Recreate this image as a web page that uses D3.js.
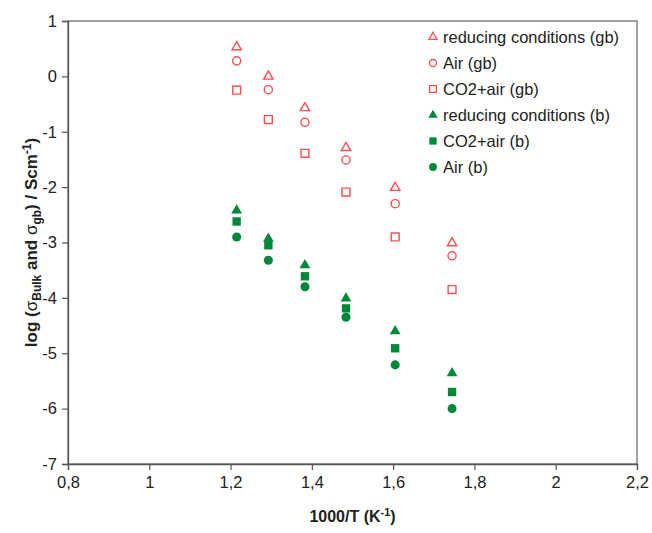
<!DOCTYPE html>
<html>
<head>
<meta charset="utf-8">
<script src="https://cdn.jsdelivr.net/npm/d3@7"></script>
<style>
  body { margin: 0; background: #fff; }
  svg { font-family: "Liberation Sans", Arial, sans-serif; }
</style>
</head>
<body>
<svg id="chart" width="652" height="533"></svg>
<script>
const width = 652;
const height = 533;
const margin = { top: 21, right: 15, bottom: 69, left: 68 };

// 1000/T
const invT = [1.215, 1.293, 1.383, 1.484, 1.605, 1.745];

// grain boundary (open red)
const reducingGb = [0.53, 0.0, -0.57, -1.29, -2.01, -3.01];
const airGb = [0.28, -0.24, -0.83, -1.51, -2.30, -3.24];
const co2Gb = [-0.25, -0.78, -1.39, -2.09, -2.90, -3.85];

// bulk (filled green)
const reducingB = [-2.42, -2.93, -3.41, -4.01, -4.60, -5.36];
const co2B = [-2.62, -3.05, -3.61, -4.19, -4.91, -5.70];
const airB = [-2.90, -3.32, -3.80, -4.35, -5.21, -6.00];

const xTicks = [0.8, 1, 1.2, 1.4, 1.6, 1.8, 2, 2.2];
const yTicks = [1, 0, -1, -2, -3, -4, -5, -6, -7];

const red = "#ff4d4d";
const green = "#00873a";

const series = [
  { name: "reducing conditions (gb)", values: reducingGb, shape: d3.symbolTriangle, size: 38, fill: false, color: red },
  { name: "Air (gb)", values: airGb, shape: d3.symbolCircle, size: 52, fill: false, color: red },
  { name: "CO2+air (gb)", values: co2Gb, shape: d3.symbolSquare, size: 62, fill: false, color: red },
  { name: "reducing conditions (b)", values: reducingB, shape: d3.symbolTriangle, size: 50, fill: true, color: green },
  { name: "CO2+air (b)", values: co2B, shape: d3.symbolSquare, size: 70, fill: true, color: green },
  { name: "Air (b)", values: airB, shape: d3.symbolCircle, size: 64, fill: true, color: green }
];

const svg = d3.select("#chart");

const x = d3.scaleLinear().domain([0.8, 2.2]).range([margin.left, width - margin.right]);
const y = d3.scaleLinear().domain([-7, 1]).range([height - margin.bottom, margin.top]);

const fmt = d => String(d).replace(".", ",");

// cadre
svg.append("rect")
  .attr("x", x(0.8)).attr("y", y(1))
  .attr("width", x(2.2) - x(0.8)).attr("height", y(-7) - y(1))
  .attr("fill", "none").attr("stroke", "#6e6e6e").attr("stroke-width", 1.3);

// axes
const xAxis = svg.append("g")
  .attr("transform", `translate(0,${y(-7)})`)
  .call(d3.axisBottom(x).tickValues(xTicks).tickFormat(fmt).tickSize(6).tickPadding(6));

const yAxis = svg.append("g")
  .attr("transform", `translate(${x(0.8)},0)`)
  .call(d3.axisLeft(y).tickValues(yTicks).tickFormat(fmt).tickSize(6).tickPadding(5));

[xAxis, yAxis].forEach(a => {
  a.select(".domain").attr("stroke", "#555").attr("stroke-width", 1.3);
  a.selectAll(".tick line").attr("stroke", "#555").attr("stroke-width", 1.2);
  a.selectAll(".tick text")
    .attr("font-size", "16.5px")
    .attr("fill", "#222")
    .attr("font-family", "Liberation Sans, Arial, sans-serif");
});

// points
series.forEach(s => {
  const sym = d3.symbol().type(s.shape).size(s.size);
  svg.append("g").selectAll("path")
    .data(s.values)
    .enter().append("path")
    .attr("d", sym)
    .attr("transform", (d, i) => `translate(${x(invT[i])},${y(d)})`)
    .attr("fill", s.fill ? s.color : "none")
    .attr("stroke", s.fill ? "none" : s.color)
    .attr("stroke-width", 1.4);
});

// légende
const legend = svg.append("g").attr("transform", "translate(433,37)");
const legendItems = legend.selectAll("g")
  .data(series)
  .enter().append("g")
  .attr("transform", (d, i) => `translate(0,${i * 26})`);

legendItems.append("path")
  .attr("d", d => d3.symbol().type(d.shape).size(d.size * 0.75)())
  .attr("fill", d => d.fill ? d.color : "none")
  .attr("stroke", d => d.fill ? "none" : d.color)
  .attr("stroke-width", 1.3);

legendItems.append("text")
  .attr("x", 10)
  .attr("y", 6)
  .attr("font-size", "16.5px")
  .attr("fill", "#222")
  .text(d => d.name);

// titres
const xTitle = svg.append("text")
  .attr("x", (x(0.8) + x(2.2)) / 2)
  .attr("y", 522)
  .attr("text-anchor", "middle")
  .attr("font-size", "16px")
  .attr("font-weight", "bold")
  .attr("fill", "#222");
xTitle.append("tspan").text("1000/T (K");
xTitle.append("tspan").attr("font-size", "11px").attr("dy", -6).text("-1");
xTitle.append("tspan").attr("dy", 6).text(")");

const yTitle = svg.append("text")
  .attr("transform", `translate(37,${(y(1) + y(-7)) / 2}) rotate(-90)`)
  .attr("text-anchor", "middle")
  .attr("font-size", "17px")
  .attr("font-weight", "bold")
  .attr("fill", "#222");
yTitle.append("tspan").text("log (");
yTitle.append("tspan").attr("font-weight", "normal").text("σ");
yTitle.append("tspan").attr("font-size", "12px").attr("dy", 4).text("Bulk");
yTitle.append("tspan").attr("dy", -4).text(" and ");
yTitle.append("tspan").attr("font-weight", "normal").text("σ");
yTitle.append("tspan").attr("font-size", "12px").attr("dy", 4).text("gb");
yTitle.append("tspan").attr("dy", -4).text(") / Scm");
yTitle.append("tspan").attr("font-size", "12px").attr("dy", -6).text("-1");
yTitle.append("tspan").attr("dy", 6).text(")");
</script>
</body>
</html>
